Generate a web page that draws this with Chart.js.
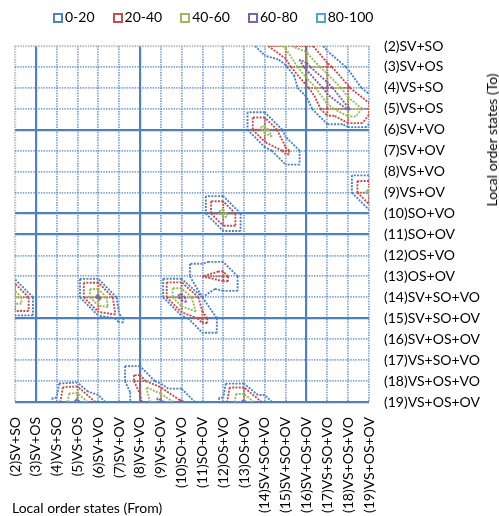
<!DOCTYPE html>
<html>
<head>
<meta charset="utf-8">
<script src="https://cdn.jsdelivr.net/npm/chart.js@4.4.1/dist/chart.umd.min.js"></script>
<style>
  html, body { margin: 0; padding: 0; background: #fff; }
  #wrap { position: relative; width: 499px; height: 516px; font-family: Lato, sans-serif; color: #000; }
  #legend { position: absolute; left: 53px; top: 8px; display: flex; gap: 18px; font-size: 14px; line-height: 18px; }
  #legend span.box { display: inline-block; width: 6px; height: 6px; border: 2px solid; margin-right: 2px; vertical-align: -1px; background: #fff; }
  .title { position: absolute; font-size: 14px; white-space: nowrap; line-height: 18px; }
  #xTitle { left: 12px; top: 499px; }
  #yTitle { left: 492px; top: 140px; transform: translate(-50%, -50%) rotate(-90deg); }
</style>
</head>
<body>
<div id="wrap">
  <canvas id="chart" width="499" height="516"></canvas>
  <div id="legend"></div>
  <div class="title" id="xTitle">Local order states (From)</div>
  <div class="title" id="yTitle">Local order states (To)</div>
</div>
<script>
// --- Daten ---
const fromStates = ['(2)SV+SO', '(3)SV+OS', '(4)VS+SO', '(5)VS+OS', '(6)SV+VO', '(7)SV+OV', '(8)VS+VO', '(9)VS+OV',
  '(10)SO+VO', '(11)SO+OV', '(12)OS+VO', '(13)OS+OV', '(14)SV+SO+VO', '(15)SV+SO+OV', '(16)SV+OS+OV',
  '(17)VS+SO+VO', '(18)VS+OS+VO', '(19)VS+OS+OV'];
const toStates = fromStates.slice();

// nicht-null Übergänge (Prozent), alles andere ist 0
const cellFrom  = [14, 15, 16, 15, 16, 17, 16, 17, 18, 17, 18, 19, 17, 18,
                   14, 15,  19,  12,   2,  6,  7,  10, 12, 11, 11, 11,   5,  4,  6,  5,   9,  8,  8, 10,  13, 12, 14];
const cellTo    = [ 2,  2,  2,  3,  3,  3,  4,  4,  4,  5,  5,  5,  2,  3,
                    6,  7,   9,  10,  14, 14, 15,  14, 13, 13, 15, 14,  19, 19, 19, 18,  19, 18, 19, 19,  19, 19, 19];
const cellValue = [15, 45, 28,  4, 68, 24, 14, 73, 22, 30, 63, 28,  3,  6,
                   48, 24,  45,  48,  58, 66, 10,  70, 26, 20, 26,  8,  67, 10, 12,  4,  67, 28, 15, 22,  65, 10, 12];

// Bänder
const bandLabels = ['0-20', '20-40', '40-60', '60-80', '80-100'];
const bandColors = ['#4F81BD', '#C0504D', '#9BBB59', '#8064A2', '#4BACC6'];
const contourLevels = [8, 20, 40, 60, 80];

// Durchgezogene Gitterlinien
const solidCols = [1, 6, 14];
const solidRows = [4, 8, 9, 13, 17];

// --- Matrix aufbauen ---
const N = fromStates.length;
const idx = (list, n) => list.findIndex(s => s.startsWith('(' + n + ')'));
const grid = [];
for (let j = 0; j < N; j++) grid.push(new Array(N).fill(0));
cellFrom.forEach((f, k) => { grid[idx(toStates, cellTo[k])][idx(fromStates, f)] = cellValue[k]; });
const val = (p) => grid[p[1]][p[0]];

// Konturlinien (Dreiecke entlang der Diagonale)
function contourSegments(level) {
  const pts = [];
  for (let j = 0; j < N - 1; j++) {
    for (let i = 0; i < N - 1; i++) {
      const tris = [
        [[i, j], [i + 1, j], [i + 1, j + 1]],
        [[i, j], [i + 1, j + 1], [i, j + 1]]
      ];
      tris.forEach(t => {
        const cross = [];
        for (let e = 0; e < 3; e++) {
          const a = t[e], b = t[(e + 1) % 3];
          const va = val(a), vb = val(b);
          if ((va >= level) !== (vb >= level)) {
            const s = (level - va) / (vb - va);
            cross.push({ x: a[0] + s * (b[0] - a[0]), y: a[1] + s * (b[1] - a[1]) });
          }
        }
        if (cross.length === 2) pts.push(cross[0], cross[1], { x: null, y: null });
      });
    }
  }
  return pts;
}

// eingefärbte Gitterabschnitte (Wert >= level)
function meshSegments(level) {
  const pts = [];
  const edge = (a, b) => {
    const va = val(a), vb = val(b);
    if (va < level && vb < level) return;
    let p = a, q = b;
    if (va < level || vb < level) {
      const s = (level - va) / (vb - va);
      const c = [a[0] + s * (b[0] - a[0]), a[1] + s * (b[1] - a[1])];
      if (va >= level) { q = c; } else { p = c; }
    }
    pts.push({ x: p[0], y: p[1] }, { x: q[0], y: q[1] }, { x: null, y: null });
  };
  for (let j = 0; j < N; j++) {
    for (let i = 0; i < N; i++) {
      if (i < N - 1) edge([i, j], [i + 1, j]);
      if (j < N - 1) edge([i, j], [i, j + 1]);
    }
  }
  return pts;
}

// höhere Bänder liegen oben (kleinere order = später gezeichnet)
const datasets = [];
contourLevels.forEach((lvl, k) => {
  if (k > 0) {
    datasets.push({
      label: 'mesh ' + bandLabels[k],
      data: meshSegments(lvl),
      showLine: true,
      borderColor: bandColors[k],
      borderWidth: 1.8,
      borderDash: [1.5, 1.2],
      pointRadius: 0,
      order: 20 - 2 * k + 1
    });
  }
  datasets.push({
    label: bandLabels[k],
    data: contourSegments(lvl),
    showLine: true,
    borderColor: bandColors[k],
    borderWidth: 1.9,
    borderDash: [2, 1.3],
    pointRadius: 0,
    order: 20 - 2 * k
  });
});

// --- Legende ---
const legend = document.getElementById('legend');
bandLabels.forEach((lab, k) => {
  const item = document.createElement('div');
  item.innerHTML = '<span class="box" style="border-color:' + bandColors[k] + '"></span>' + lab;
  legend.appendChild(item);
});

// --- Chart ---
Chart.defaults.font.family = 'Lato';
Chart.defaults.font.size = 14;
Chart.defaults.color = '#000';

const gridColor = (isSolid) => (ctx) => {
  const v = ctx.tick ? ctx.tick.value : -1;
  if (v === 0) return '#BFBFBF';
  return isSolid(v) ? '#4F81BD' : 'rgba(79,129,189,0.72)';
};

new Chart(document.getElementById('chart'), {
  type: 'scatter',
  data: { datasets },
  options: {
    responsive: false,
    animation: false,
    events: [],
    layout: { padding: { left: 12, top: 46, right: 0, bottom: 0 } },
    plugins: { legend: { display: false }, tooltip: { enabled: false } },
    scales: {
      x: {
        type: 'linear',
        position: 'bottom',
        min: 0, max: N - 1,
        afterFit: (scale) => { scale.height = 114; },
        ticks: {
          stepSize: 1, autoSkip: false, maxRotation: 90, minRotation: 90, padding: 15,
          callback: (v) => fromStates[v]
        },
        grid: {
          drawTicks: false,
          color: gridColor(v => solidCols.includes(v)),
          lineWidth: (ctx) => (ctx.tick && (solidCols.includes(ctx.tick.value) || ctx.tick.value === 0)) ? 2.2 : 1.8
        },
        border: {
          display: false,
          dash: (ctx) => (ctx.tick && solidCols.includes(ctx.tick.value)) ? [] : [1.4, 1.2]
        }
      },
      y: {
        type: 'linear',
        position: 'right',
        reverse: true,
        min: 0, max: N - 1,
        afterFit: (scale) => { scale.width = 130; },
        ticks: {
          stepSize: 1, autoSkip: false, padding: 15,
          callback: (v) => toStates[v]
        },
        grid: {
          drawTicks: false,
          color: gridColor(v => solidRows.includes(v)),
          lineWidth: (ctx) => (ctx.tick && (solidRows.includes(ctx.tick.value) || ctx.tick.value === 0)) ? 2.2 : 1.8
        },
        border: {
          display: false,
          dash: (ctx) => (ctx.tick && solidRows.includes(ctx.tick.value)) ? [] : [1.4, 1.2]
        }
      }
    }
  }
});
</script>
</body>
</html>
